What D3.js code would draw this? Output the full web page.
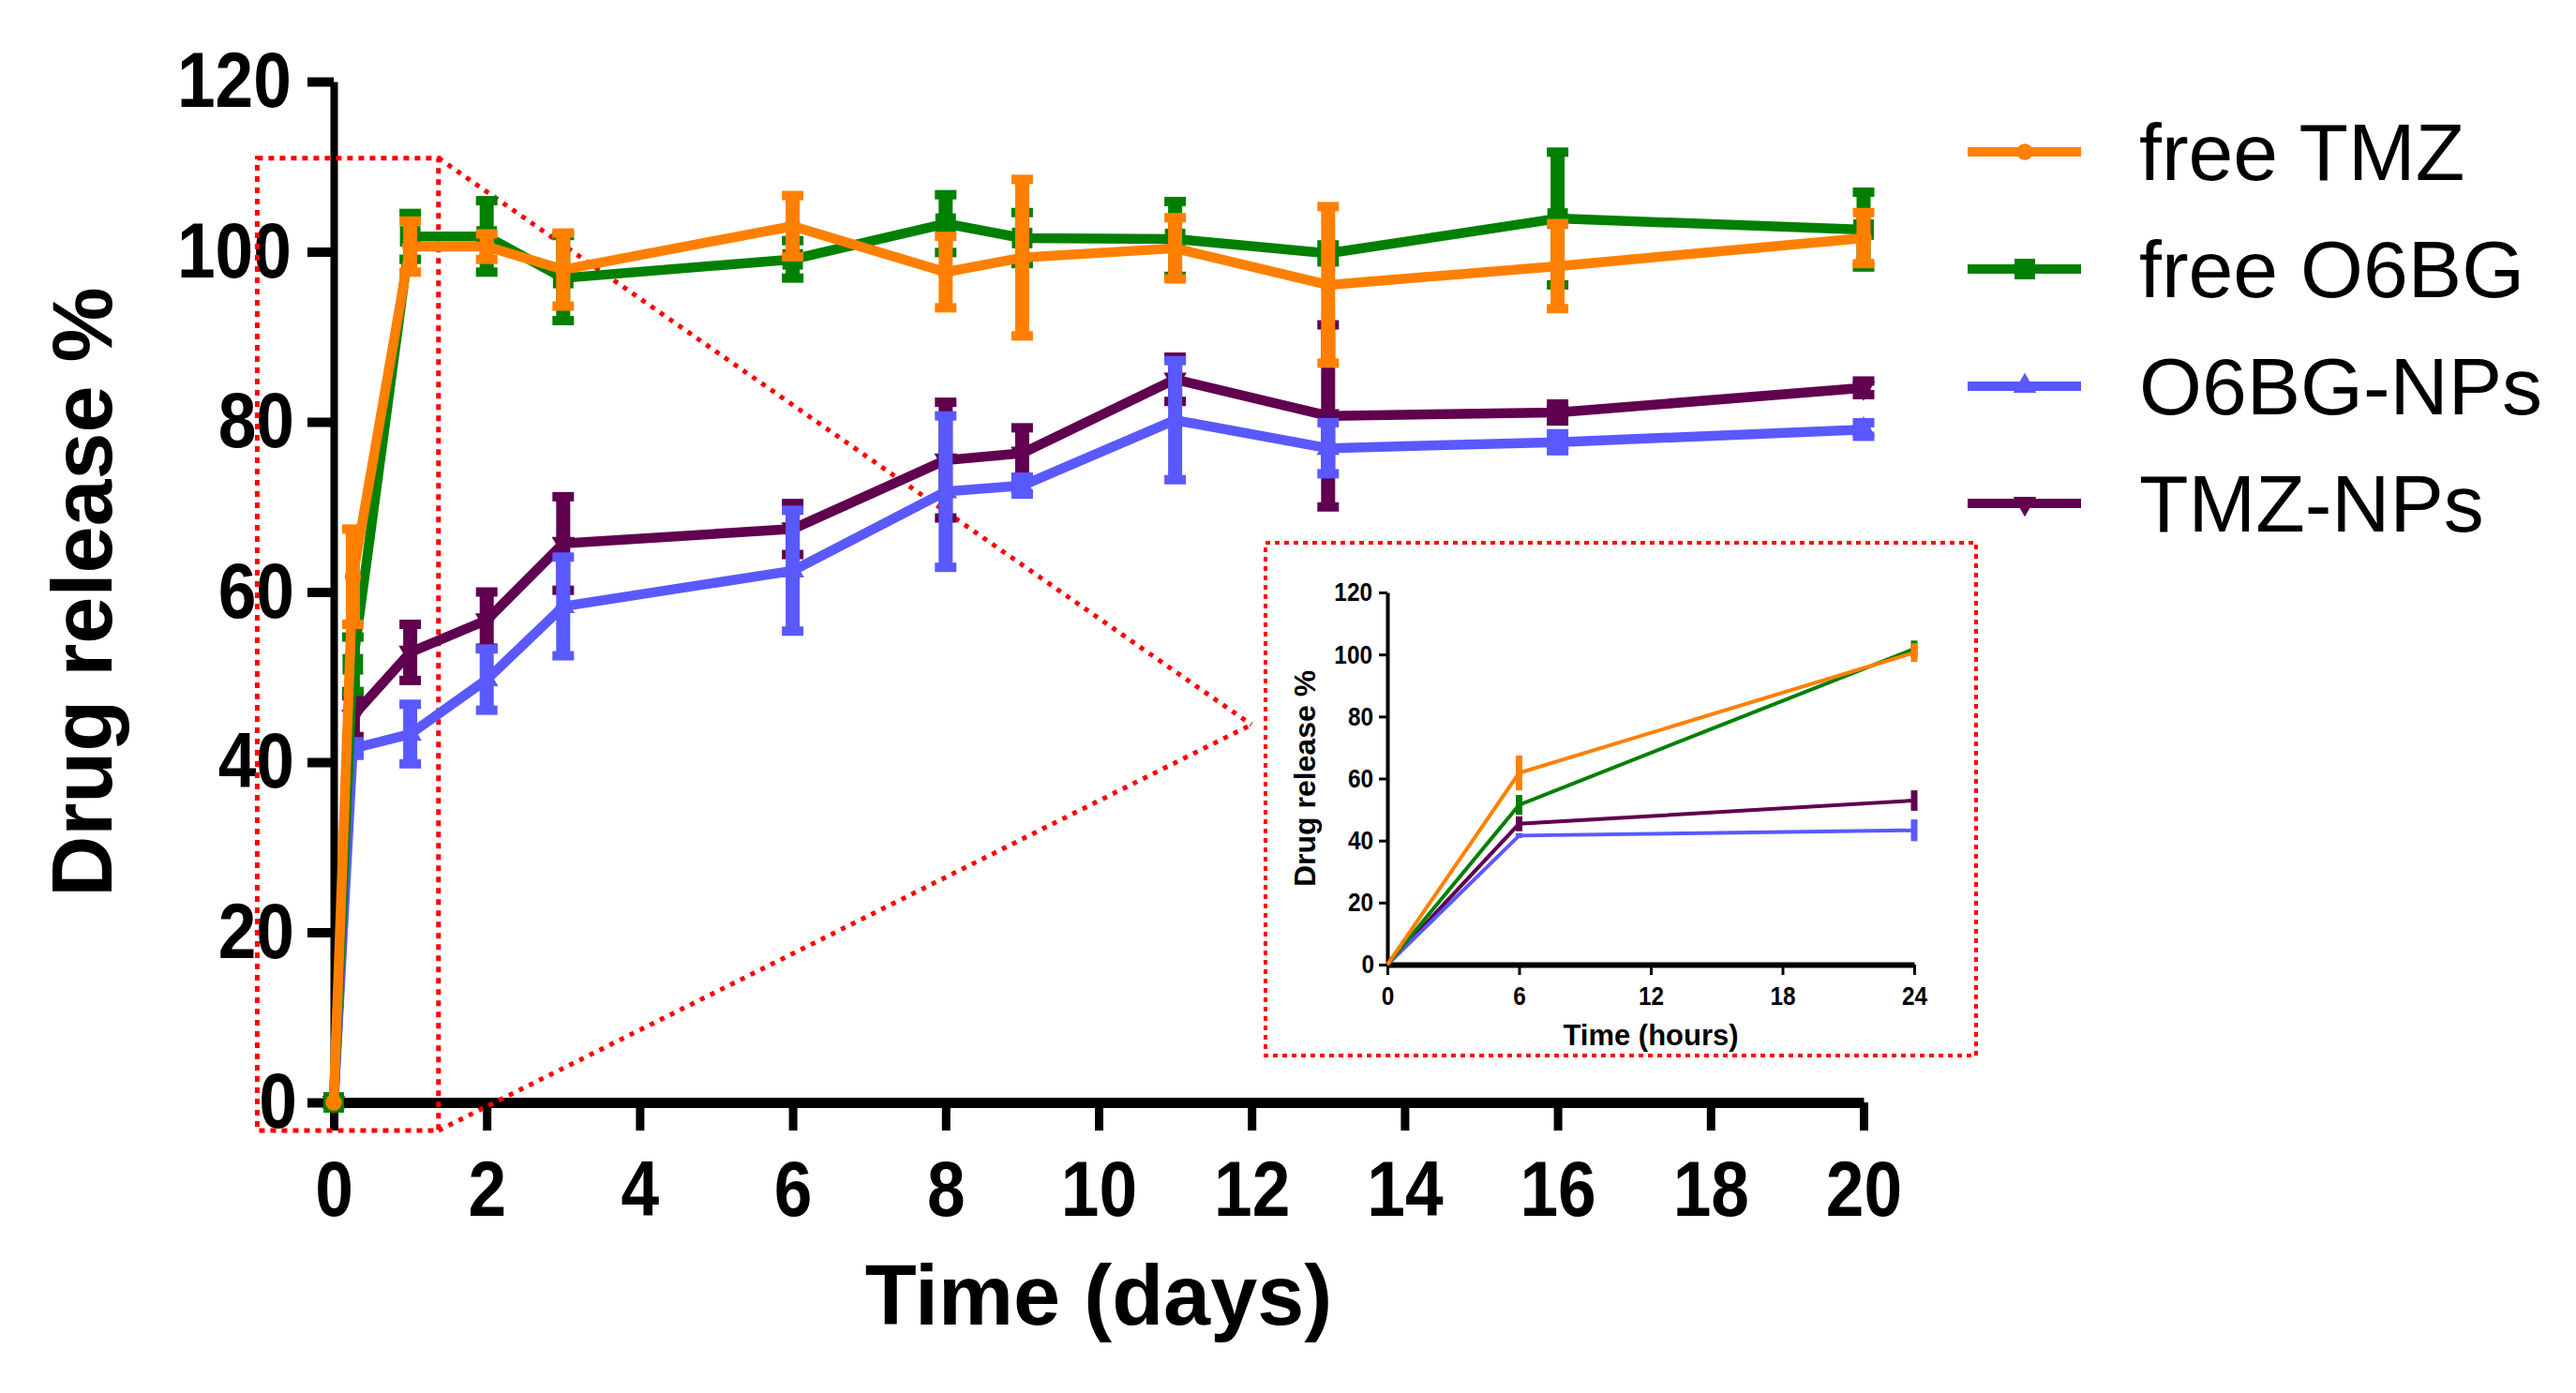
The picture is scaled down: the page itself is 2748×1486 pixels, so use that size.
<!DOCTYPE html>
<html>
<head>
<meta charset="utf-8">
<script src="https://cdn.jsdelivr.net/npm/d3@7"></script>
<style>
  body { margin: 0; background: #fff; }
  text { font-family: Arial, "Liberation Sans", sans-serif; fill: #000; }
  .narrow { transform-box: fill-box; transform-origin: center; transform: scaleX(0.87); }
</style>
</head>
<body>
<script>
// time points (days) and release values (%)
const days = [0, 0.25, 1, 2, 3, 6, 8, 9, 11, 13, 16, 20];

const freeTMZ    = [0, 61.8, 100.6, 100.6, 97.9, 103.0, 97.6, 99.3, 100.4, 96.1, 98.3, 101.6];
const freeTMZErr = [0, 5.6, 3.0, 1.5, 4.3, 3.6, 4.2, 9.2, 3.6, 9.2, 5.0, 3.0];

const freeO6BG    = [0, 51.5, 101.8, 101.8, 96.9, 99.1, 103.3, 101.6, 101.5, 99.8, 103.9, 102.6];
const freeO6BGErr = [0, 3.2, 2.7, 4.2, 5.0, 2.2, 3.4, 3.0, 4.4, 1.0, 7.8, 4.4];

const o6bgNPs    = [0, 41.6, 43.3, 49.7, 58.3, 62.5, 71.8, 72.5, 80.2, 76.9, 77.6, 79.1];
const o6bgNPsErr = [0, 0.8, 3.5, 3.6, 5.8, 7.1, 8.9, 1.0, 7.0, 3.0, 1.0, 0.8];

const tmzNPs    = [0, 45.4, 52.9, 56.7, 65.7, 67.4, 75.5, 76.3, 85.0, 80.7, 81.1, 84.0];
const tmzNPsErr = [0, 2.4, 3.3, 3.3, 5.5, 3.0, 6.8, 3.0, 2.6, 10.7, 1.0, 0.8];

const seriesNames = ["free TMZ", "free O6BG", "O6BG-NPs", "TMZ-NPs"];
const xTicks = [0, 2, 4, 6, 8, 10, 12, 14, 16, 18, 20];
const yTicks = [0, 20, 40, 60, 80, 100, 120];
const insetXTicks = [0, 6, 12, 18, 24];

// zoomed region marked on the main chart (days, %)
const zoomDays = [-1.0, 1.37];
const zoomPct = [-3.3, 111];

const series = [
  {name: seriesNames[0], values: freeTMZ,  err: freeTMZErr,  color: "#ff8000", symbol: d3.symbolCircle,   size: 240, rot: 0},
  {name: seriesNames[1], values: freeO6BG, err: freeO6BGErr, color: "#008000", symbol: d3.symbolSquare,   size: 480, rot: 0},
  {name: seriesNames[2], values: o6bgNPs,  err: o6bgNPsErr,  color: "#5959ff", symbol: d3.symbolTriangle, size: 260, rot: 0},
  {name: seriesNames[3], values: tmzNPs,   err: tmzNPsErr,   color: "#60004f", symbol: d3.symbolTriangle, size: 260, rot: 180}
];
series.forEach(s => {
  s.points = days.map((d, i) => ({day: d, v: s.values[i], e: s.err[i]}));
});

const svg = d3.select("body").append("svg")
    .attr("width", 2748)
    .attr("height", 1486);

let x = d3.scaleLinear().domain([0, 20]).range([356, 1988]);
let y = d3.scaleLinear().domain([0, 120]).range([1176, 87]);

// ---- main axes
let gx = svg.append("g")
    .attr("transform", "translate(0," + y(0) + ")")
    .call(d3.axisBottom(x).tickValues(xTicks).tickSize(30).tickSizeOuter(0).tickPadding(31));
gx.select(".domain").attr("stroke-width", 11);
gx.selectAll(".tick line").attr("stroke-width", 9);
gx.selectAll(".tick text")
    .attr("class", "narrow")
    .attr("font-size", 84)
    .attr("font-weight", "bold");

let gy = svg.append("g")
    .attr("transform", "translate(" + x(0) + ",0)")
    .call(d3.axisLeft(y).tickValues(yTicks).tickSize(28).tickSizeOuter(0).tickPadding(8));
gy.select(".domain").attr("stroke-width", 8);
gy.selectAll(".tick line").attr("stroke-width", 10);
gy.selectAll(".tick text")
    .attr("class", "narrow")
    .attr("font-size", 84)
    .attr("font-weight", "bold");

svg.append("text")
    .attr("transform", "translate(119," + (y(60)) + ") rotate(-90)")
    .attr("text-anchor", "middle")
    .attr("font-size", 90)
    .attr("font-weight", "bold")
    .text("Drug release %");

svg.append("text")
    .attr("x", (x(0) + x(20)) / 2)
    .attr("y", 1413)
    .attr("text-anchor", "middle")
    .attr("font-size", 90)
    .attr("font-weight", "bold")
    .text("Time (days)");

// ---- red zoom annotation
let inset = {x: 1350, y: 579, w: 758, h: 547, tipX: 1335, tipY: 773};

svg.append("rect")
    .attr("x", x(zoomDays[0]))
    .attr("y", y(zoomPct[1]))
    .attr("width", x(zoomDays[1]) - x(zoomDays[0]))
    .attr("height", y(zoomPct[0]) - y(zoomPct[1]))
    .attr("fill", "none")
    .attr("stroke", "#ff0000")
    .attr("stroke-width", 5)
    .attr("stroke-dasharray", "6,6");

[zoomPct[1], zoomPct[0]].forEach(p => {
  svg.append("line")
      .attr("x1", x(zoomDays[1])).attr("y1", y(p))
      .attr("x2", inset.tipX).attr("y2", inset.tipY)
      .attr("stroke", "#ff0000")
      .attr("stroke-width", 5)
      .attr("stroke-dasharray", "5,7");
});

// ---- main series (drawn bottom to top)
let line = d3.line()
    .x(d => x(d.day))
    .y(d => y(d.v));

series.slice().reverse().forEach(s => {
  let g = svg.append("g").attr("class", "series");

  g.append("path")
      .attr("d", line(s.points))
      .attr("fill", "none")
      .attr("stroke", s.color)
      .attr("stroke-width", 10.5)
      .attr("stroke-linejoin", "round");

  let bars = g.selectAll(".err")
    .data(s.points.filter(d => d.e > 0))
    .enter().append("g")
      .attr("class", "err");

  bars.append("line")
      .attr("x1", d => x(d.day)).attr("x2", d => x(d.day))
      .attr("y1", d => y(d.v + d.e)).attr("y2", d => y(d.v - d.e))
      .attr("stroke", s.color)
      .attr("stroke-width", 15);

  [1, -1].forEach(sign => {
    bars.append("line")
        .attr("x1", d => x(d.day) - 11.5).attr("x2", d => x(d.day) + 11.5)
        .attr("y1", d => y(d.v + sign * d.e)).attr("y2", d => y(d.v + sign * d.e))
        .attr("stroke", s.color)
        .attr("stroke-width", 10);
  });

  g.selectAll(".mark")
    .data(s.points)
    .enter().append("path")
      .attr("class", "mark")
      .attr("transform", d => "translate(" + x(d.day) + "," + y(d.v) + ") rotate(" + s.rot + ")")
      .attr("d", d3.symbol().type(s.symbol).size(s.size))
      .attr("fill", s.color);
});

// ---- legend
let legend = svg.selectAll(".legend")
  .data(series)
  .enter().append("g")
    .attr("class", "legend")
    .attr("transform", (d, i) => "translate(2099," + (162 + i * 125) + ")");

legend.append("line")
    .attr("x1", 0).attr("x2", 121)
    .attr("stroke", d => d.color)
    .attr("stroke-width", 10);

legend.append("path")
    .attr("transform", d => "translate(61,0) rotate(" + d.rot + ")")
    .attr("d", d => d3.symbol().type(d.symbol).size(d.size)())
    .attr("fill", d => d.color);

legend.append("text")
    .attr("x", 183)
    .attr("dy", "0.35em")
    .attr("font-size", 86)
    .text(d => d.name);

// ---- inset (first day, in hours)
svg.append("rect")
    .attr("x", inset.x).attr("y", inset.y)
    .attr("width", inset.w).attr("height", inset.h)
    .attr("fill", "none")
    .attr("stroke", "#ff0000")
    .attr("stroke-width", 4)
    .attr("stroke-dasharray", "5,5");

let xi = d3.scaleLinear().domain([0, 24]).range([1480, 2042]);
let yi = d3.scaleLinear().domain([0, 120]).range([1029, 632]);

let gxi = svg.append("g")
    .attr("transform", "translate(0," + yi(0) + ")")
    .call(d3.axisBottom(xi).tickValues(insetXTicks).tickSize(11).tickSizeOuter(0).tickPadding(12));
gxi.select(".domain").attr("stroke-width", 6);
gxi.selectAll(".tick line").attr("stroke-width", 3);
gxi.selectAll(".tick text")
    .attr("class", "narrow")
    .attr("font-size", 28)
    .attr("font-weight", "bold");

let gyi = svg.append("g")
    .attr("transform", "translate(" + xi(0) + ",0)")
    .call(d3.axisLeft(yi).tickValues(yTicks).tickSize(9).tickSizeOuter(0).tickPadding(4));
gyi.select(".domain").attr("stroke-width", 4);
gyi.selectAll(".tick line").attr("stroke-width", 3);
gyi.selectAll(".tick text")
    .attr("class", "narrow")
    .attr("font-size", 28)
    .attr("font-weight", "bold");

svg.append("text")
    .attr("transform", "translate(1403," + yi(60) + ") rotate(-90)")
    .attr("text-anchor", "middle")
    .attr("font-size", 32)
    .attr("font-weight", "bold")
    .text("Drug release %");

svg.append("text")
    .attr("x", (xi(0) + xi(24)) / 2)
    .attr("y", 1115)
    .attr("text-anchor", "middle")
    .attr("font-size", 31)
    .attr("font-weight", "bold")
    .text("Time (hours)");

let lineI = d3.line()
    .x(d => xi(d.day * 24))
    .y(d => yi(d.v));

series.slice().reverse().forEach(s => {
  let pts = s.points.filter(d => d.day <= 1);
  let g = svg.append("g").attr("class", "inset-series");

  g.append("path")
      .attr("d", lineI(pts))
      .attr("fill", "none")
      .attr("stroke", s.color)
      .attr("stroke-width", 4);

  g.selectAll(".err")
    .data(pts.filter(d => d.e > 0))
    .enter().append("line")
      .attr("class", "err")
      .attr("x1", d => xi(d.day * 24)).attr("x2", d => xi(d.day * 24))
      .attr("y1", d => yi(d.v + d.e)).attr("y2", d => yi(d.v - d.e))
      .attr("stroke", s.color)
      .attr("stroke-width", 7);
});
</script>
</body>
</html>
